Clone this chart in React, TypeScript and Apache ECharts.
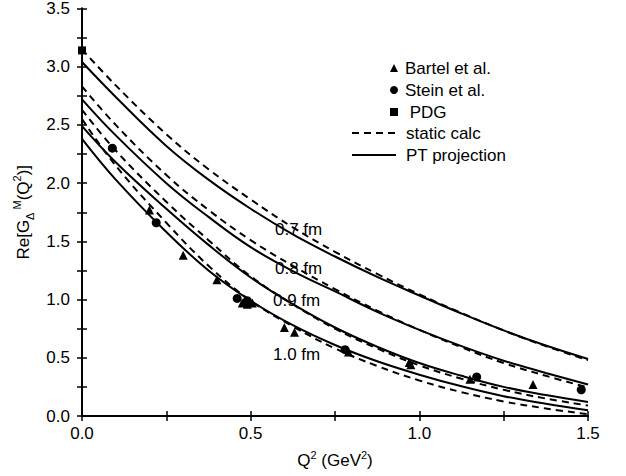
import React, { useEffect, useRef } from "react";
import * as echarts from "echarts";

// ---- data ----
const qGrid = [0, 0.1, 0.25, 0.375, 0.5, 0.625, 0.75, 0.875, 1.0, 1.125, 1.25, 1.375, 1.5];

// PT projection (solid) and static calc (dashed) for the four radii
const pt07 = [3.04, 2.74, 2.32, 2.03, 1.78, 1.56, 1.37, 1.195, 1.035, 0.88, 0.735, 0.605, 0.49];
const st07 = [3.15, 2.84, 2.42, 2.12, 1.86, 1.62, 1.41, 1.22, 1.045, 0.885, 0.735, 0.6, 0.48];
const pt08 = [2.72, 2.41, 2.0, 1.71, 1.45, 1.245, 1.07, 0.895, 0.74, 0.6, 0.475, 0.37, 0.27];
const st08 = [2.83, 2.5, 2.07, 1.77, 1.51, 1.29, 1.09, 0.905, 0.74, 0.59, 0.455, 0.345, 0.245];
const pt09 = [2.49, 2.18, 1.78, 1.47, 1.19, 0.96, 0.76, 0.595, 0.455, 0.345, 0.25, 0.18, 0.12];
const st09 = [2.63, 2.28, 1.84, 1.51, 1.2, 0.96, 0.75, 0.58, 0.435, 0.32, 0.225, 0.15, 0.09];
const pt10 = [2.38, 2.03, 1.58, 1.25, 0.99, 0.78, 0.61, 0.47, 0.355, 0.255, 0.17, 0.105, 0.05];
const st10 = [2.55, 2.15, 1.66, 1.29, 0.99, 0.77, 0.58, 0.43, 0.305, 0.205, 0.125, 0.065, 0.015];

const bartel = [
  [0.2, 1.77], [0.3, 1.38], [0.4, 1.17], [0.475, 0.97], [0.49, 0.96],
  [0.505, 0.97], [0.6, 0.76], [0.63, 0.72], [0.79, 0.55], [0.97, 0.46],
  [0.975, 0.44], [1.15, 0.315], [1.337, 0.27],
];
const stein = [
  [0.09, 2.3], [0.22, 1.66], [0.46, 1.01], [0.49, 0.99], [0.78, 0.57],
  [1.17, 0.335], [1.48, 0.225],
];
const pdg = [[0.0, 3.14]];

const curveLabels = [
  [0.572, 1.606, "0.7 fm"],
  [0.572, 1.268, "0.8 fm"],
  [0.566, 0.989, "0.9 fm"],
  [0.566, 0.527, "1.0 fm"],
];

const xTickLabels = ["0.0", "0.5", "1.0", "1.5"];
const yTickLabels = ["0.0", "0.5", "1.0", "1.5", "2.0", "2.5", "3.0", "3.5"];

const FONT = "'Liberation Sans', Arial, Helvetica, sans-serif";

function pairs(ys: number[]) {
  return qGrid.map((x, i) => [x, ys[i]]);
}

export default function App() {
  const ref = useRef<HTMLDivElement>(null);
  useEffect(() => {
    if (!ref.current) return;
    const chart = echarts.init(ref.current, undefined, { renderer: "svg" });

    const axisLine = { lineStyle: { color: "#000", width: 2 } };
    const tick = { inside: true, length: 5, lineStyle: { color: "#000", width: 1.5 } };
    const minor = { show: true, splitNumber: 2, length: 5, lineStyle: { color: "#000", width: 1.5 } };

    const lineSeries = (name: string, ys: number[], dashed: boolean) => ({
      type: "line",
      name,
      data: pairs(ys),
      smooth: 0.4,
      symbol: "none",
      silent: true,
      z: 2,
      lineStyle: { color: "#000", width: 2, type: dashed ? [7, 5] : "solid" },
      itemStyle: { color: "#000" },
    });

    const option: any = {
      animation: false,
      backgroundColor: "#fff",
      textStyle: { fontFamily: FONT },
      grid: { left: 82, right: 38, top: 6, bottom: 56 },
      xAxis: [
        {
          type: "value",
          position: "bottom",
          min: 0,
          max: 1.5,
          interval: 0.5,
          axisLine,
          axisTick: tick,
          minorTick: minor,
          splitLine: { show: false },
          axisLabel: {
            color: "#000",
            fontSize: 17,
            fontFamily: FONT,
            margin: 9,
            formatter: (v: number) => xTickLabels[Math.round(v / 0.5)],
          },
          name: "Q{sup|2} (GeV{sup|2})",
          nameLocation: "middle",
          nameGap: 33,
          nameTextStyle: {
            color: "#000",
            fontSize: 17,
            fontFamily: FONT,
            lineHeight: 22,
            rich: {
              sup: { fontSize: 11, fontFamily: FONT, color: "#000", verticalAlign: "top", lineHeight: 12 },
            },
          },
        },
        {
          type: "value",
          position: "top",
          min: 0,
          max: 1.5,
          interval: 0.5,
          axisLine,
          axisTick: tick,
          minorTick: minor,
          splitLine: { show: false },
          axisLabel: { show: false },
        },
      ],
      yAxis: [
        {
          type: "value",
          position: "left",
          min: 0,
          max: 3.5,
          interval: 0.5,
          axisLine,
          axisTick: tick,
          minorTick: minor,
          splitLine: { show: false },
          axisLabel: {
            color: "#000",
            fontSize: 17,
            fontFamily: FONT,
            margin: 12,
            formatter: (v: number) => yTickLabels[Math.round(v / 0.5)],
          },
          name: "Re[G{sub|Δ}{sup| M}(Q{sup|2})]",
          nameLocation: "middle",
          nameGap: 44,
          nameTextStyle: {
            color: "#000",
            fontSize: 17,
            fontFamily: FONT,
            lineHeight: 24,
            rich: {
              sup: { fontSize: 11, fontFamily: FONT, color: "#000", verticalAlign: "top", lineHeight: 12 },
              sub: { fontSize: 11, fontFamily: FONT, color: "#000", verticalAlign: "bottom", lineHeight: 12 },
            },
          },
        },
        {
          type: "value",
          position: "right",
          min: 0,
          max: 3.5,
          interval: 0.5,
          axisLine,
          axisTick: tick,
          minorTick: minor,
          splitLine: { show: false },
          axisLabel: { show: false },
        },
      ],
      legend: [
        {
          orient: "vertical",
          left: 390,
          top: 57,
          padding: 0,
          itemGap: 0,
          itemWidth: 8,
          itemHeight: 8,
          data: ["Bartel et al.", "Stein et al.", " PDG"],
          itemStyle: { opacity: 1 },
          textStyle: { color: "#000", fontSize: 17, fontFamily: FONT, lineHeight: 22, padding: [0, 0, 0, 2] },
          selectedMode: false,
        },
        {
          orient: "vertical",
          left: 351,
          top: 122,
          padding: 0,
          itemGap: 0,
          itemWidth: 44,
          itemHeight: 8,
          data: ["static calc", "PT projection"],
          itemStyle: { opacity: 0 },
          textStyle: { color: "#000", fontSize: 17, fontFamily: FONT, lineHeight: 22, padding: [0, 0, 0, 5] },
          selectedMode: false,
        },
      ],
      series: [
        lineSeries("static calc", st07, true),
        lineSeries("PT projection", pt07, false),
        lineSeries("static calc", st08, true),
        lineSeries("PT projection", pt08, false),
        lineSeries("static calc", st09, true),
        lineSeries("PT projection", pt09, false),
        lineSeries("static calc", st10, true),
        lineSeries("PT projection", pt10, false),
        {
          type: "scatter",
          name: "Bartel et al.",
          data: bartel,
          symbol: "triangle",
          symbolSize: 9,
          itemStyle: { color: "#000", opacity: 1 },
          z: 3,
        },
        {
          type: "scatter",
          name: "Stein et al.",
          data: stein,
          symbol: "circle",
          symbolSize: 9,
          itemStyle: { color: "#000", opacity: 1 },
          z: 3,
        },
        {
          type: "scatter",
          name: " PDG",
          data: pdg,
          symbol: "rect",
          symbolSize: 8,
          itemStyle: { color: "#000", opacity: 1 },
          z: 3,
        },
        {
          type: "scatter",
          name: "labels",
          data: curveLabels,
          symbolSize: 0.1,
          silent: true,
          itemStyle: { color: "#000", opacity: 1 },
          label: {
            show: true,
            position: "right",
            distance: 0,
            color: "#000",
            fontSize: 17,
            fontFamily: FONT,
            formatter: (p: any) => p.data[2],
          },
          z: 4,
        },
      ],
    };

    chart.setOption(option);
    return () => chart.dispose();
  }, []);

  return (
    <div
      ref={ref}
      style={{ position: "fixed", left: 0, top: 0, width: 626, height: 476, background: "#fff" }}
    />
  );
}
